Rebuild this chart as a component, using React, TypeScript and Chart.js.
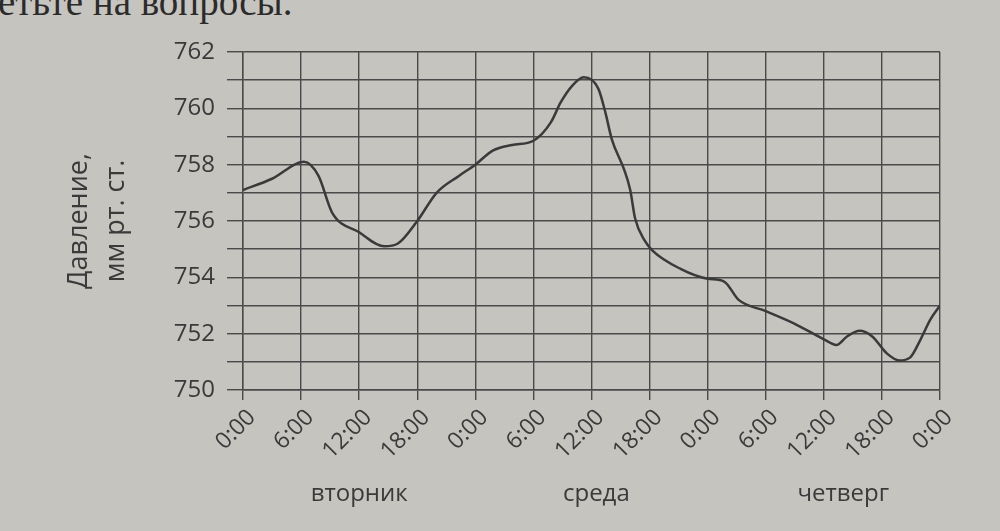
import React, { useEffect, useRef } from "react";
import { Chart, registerables } from "chart.js";

Chart.register(...registerables);

// Hours since Tuesday 0:00
const hours = [
  0, 3, 6.3, 7.8, 9.2, 12, 14.6, 16, 18, 20, 22.3, 24, 25.8, 27.8, 30, 31.8,
  32.8, 34, 35.2, 36.7, 37.4, 38.1, 39.4, 40, 40.5, 41.5, 42.3, 45.2, 48, 49.7,
  51.2, 54, 57, 60, 61.3, 62.4, 63.7, 65, 66.5, 67.8, 68.9, 70, 71, 72,
];
// Pressure, mm Hg
const pressure = [
  757.1, 757.5, 758.1, 757.6, 756.3, 755.6, 755.1, 755.2, 756.0, 757.0, 757.6,
  758.0, 758.5, 758.7, 758.85, 759.5, 760.2, 760.8, 761.1, 760.7, 759.9, 758.9,
  757.8, 757.1, 756.1, 755.3, 754.95, 754.3, 753.95, 753.85, 753.2, 752.8,
  752.35, 751.8, 751.6, 751.9, 752.1, 751.9, 751.3, 751.05, 751.15, 751.8,
  752.5, 753.0,
];

const yMin = 750;
const yMax = 762;
const xMax = 72;
const hourStep = 6;
const dayLabels = ["вторник", "среда", "четверг"];
const dayCenters = [12, 36.5, 62];
const yTitle = ["Давление,", "мм рт. ст."];
const headerText = "етьте на вопросы.";

const ink = "#3a3a3a";
const gridInk = "#4a4a4a";
const paper = "#c6c4bf";
const fontFamily = "'Open Sans', 'Noto Sans', sans-serif";

export default function App() {
  const ref = useRef<HTMLCanvasElement | null>(null);

  useEffect(() => {
    if (!ref.current) return;
    const chart = new Chart(ref.current, {
      type: "line",
      data: {
        datasets: [
          {
            data: hours.map((h, i) => ({ x: h, y: pressure[i] })),
            borderColor: ink,
            borderWidth: 2.5,
            pointRadius: 0,
            fill: false,
            tension: 0.4,
            cubicInterpolationMode: "monotone",
          },
        ],
      },
      options: {
        animation: false,
        responsive: false,
        devicePixelRatio: 1,
        layout: { padding: { top: 52, right: 60, bottom: 0, left: 0 } },
        plugins: { legend: { display: false }, tooltip: { enabled: false } },
        scales: {
          x: {
            type: "linear",
            position: "bottom",
            weight: 0,
            min: 0,
            max: xMax,
            afterFit: (s: any) => {
              s.height = 88;
            },
            ticks: {
              stepSize: hourStep,
              autoSkip: false,
              minRotation: 45,
              maxRotation: 45,
              padding: 4,
              labelOffset: 9,
              color: ink,
              font: { family: fontFamily, size: 23 },
              callback: (v: any) => `${Number(v) % 24}:00`,
            },
            grid: { color: gridInk, lineWidth: 1.4, tickLength: 10 },
            border: { color: gridInk, width: 1.4 },
          },
          x2: {
            type: "linear",
            position: "bottom",
            weight: 1,
            min: 0,
            max: xMax,
            afterFit: (s: any) => {
              s.height = 53;
            },
            afterBuildTicks: (s: any) => {
              s.ticks = dayCenters.map((v) => ({ value: v }));
            },
            ticks: {
              autoSkip: false,
              maxRotation: 0,
              minRotation: 0,
              padding: 2,
              color: ink,
              font: { family: fontFamily, size: 24 },
              callback: (_v: any, i: number) => dayLabels[i],
            },
            grid: { display: false, drawTicks: false },
            border: { display: false },
          },
          y: {
            min: yMin,
            max: yMax,
            afterFit: (s: any) => {
              s.width = 243;
            },
            ticks: {
              stepSize: 1,
              autoSkip: false,
              padding: 12,
              color: ink,
              font: { family: fontFamily, size: 24 },
              callback: (v: any) => (Number(v) % 2 === 0 ? String(v) : ""),
            },
            grid: { color: gridInk, lineWidth: 1.4, tickLength: 16 },
            border: { color: gridInk, width: 1.4 },
            title: {
              display: true,
              text: yTitle,
              color: ink,
              font: { family: fontFamily, size: 27, lineHeight: 1.37 },
              padding: { top: 61, bottom: 0 },
            },
          },
        },
      },
    });
    return () => chart.destroy();
  }, []);

  return (
    <div
      style={{
        position: "absolute",
        left: 0,
        top: 0,
        width: 1000,
        height: 531,
        background: paper,
        overflow: "hidden",
      }}
    >
      <div
        style={{
          position: "absolute",
          left: -2,
          top: -18,
          fontFamily: "'Liberation Serif', 'DejaVu Serif', serif",
          fontSize: 39,
          lineHeight: 1,
          color: "#2b2b2b",
          whiteSpace: "nowrap",
        }}
      >
        {headerText}
      </div>
      <canvas
        ref={ref}
        width={1000}
        height={531}
        style={{ position: "absolute", left: 0, top: 0 }}
      />
    </div>
  );
}
